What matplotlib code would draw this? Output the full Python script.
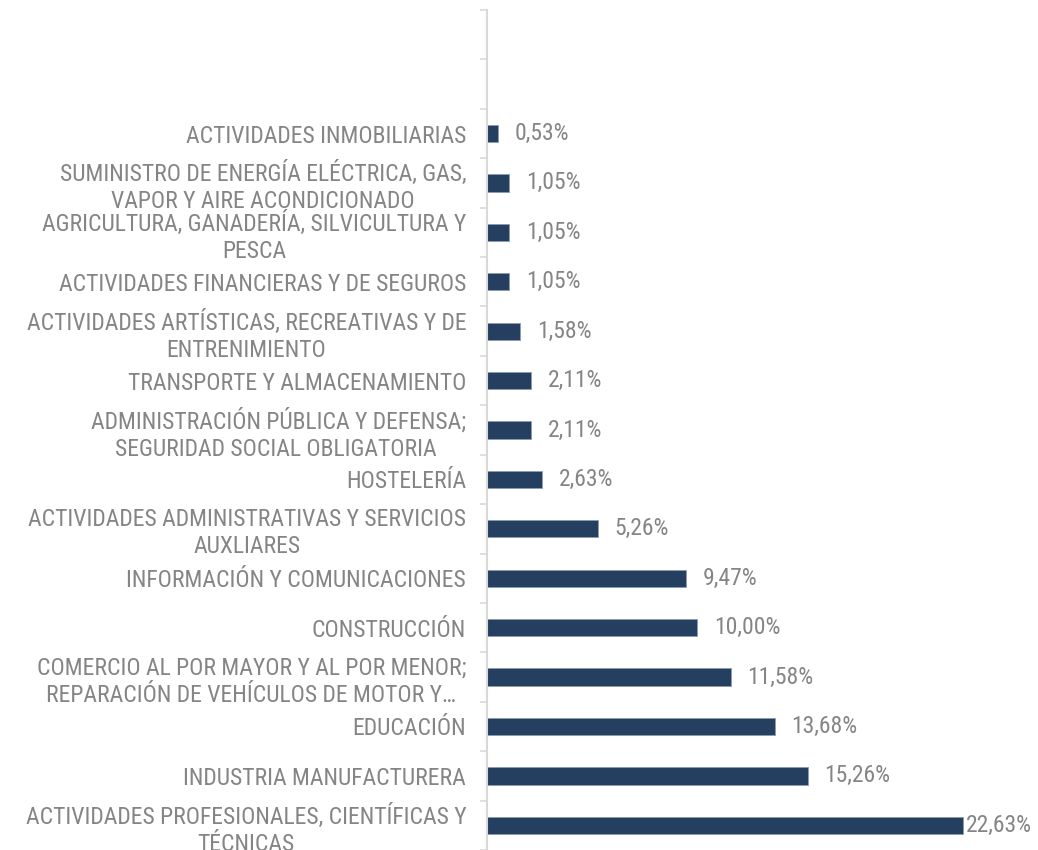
import matplotlib.pyplot as plt
from matplotlib import font_manager
import numpy as np

# bottom to top, as in the chart
sectores = [
    "ACTIVIDADES PROFESIONALES, CIENTÍFICAS Y\nTÉCNICAS",
    "INDUSTRIA MANUFACTURERA",
    "EDUCACIÓN",
    "COMERCIO AL POR MAYOR Y AL POR MENOR;\nREPARACIÓN DE VEHÍCULOS DE MOTOR Y…",
    "CONSTRUCCIÓN",
    "INFORMACIÓN Y COMUNICACIONES",
    "ACTIVIDADES ADMINISTRATIVAS Y SERVICIOS\nAUXLIARES",
    "HOSTELERÍA",
    "ADMINISTRACIÓN PÚBLICA Y DEFENSA;\nSEGURIDAD SOCIAL OBLIGATORIA ",
    "TRANSPORTE Y ALMACENAMIENTO",
    "ACTIVIDADES ARTÍSTICAS, RECREATIVAS Y DE\nENTRENIMIENTO",
    "ACTIVIDADES FINANCIERAS Y DE SEGUROS",
    "AGRICULTURA, GANADERÍA, SILVICULTURA Y\nPESCA",
    "SUMINISTRO DE ENERGÍA ELÉCTRICA, GAS,\nVAPOR Y AIRE ACONDICIONADO",
    "ACTIVIDADES INMOBILIARIAS",
]
porcentajes = [22.63, 15.26, 13.68, 11.58, 10.00, 9.47, 5.26, 2.63,
               2.11, 2.11, 1.58, 1.05, 1.05, 1.05, 0.53]
n_huecos = 2  # empty slots above the last category

# narrow font if there is one, else Liberation Sans
fuente, tam = 'Liberation Sans', 14.2
for fam, size in [('Roboto Condensed', 17), ('Arial Narrow', 16)]:
    try:
        font_manager.findfont(fam, fallback_to_default=False)
        fuente, tam = fam, size
        break
    except ValueError:
        pass
plt.rcParams['font.family'] = [fuente, 'DejaVu Sans']

fig = plt.figure(figsize=(10.38, 8.5), dpi=100)
ax = fig.add_axes([487 / 1038, 0, 1 - 487 / 1038, 840 / 850])

y = np.arange(len(sectores))
ax.barh(y, porcentajes, height=0.35, color='#243f60',
        edgecolor='#8c9bb0', linewidth=0.6)

for yi, v in zip(y, porcentajes):
    off = 2 if v > 20 else 12
    ax.annotate(f"{v:.2f}%".replace('.', ','), (v, yi),
                xytext=(off, 0), textcoords='offset points',
                ha='left', va='center', fontsize=tam, color='#858585')

total = len(sectores) + n_huecos
ax.set_ylim(-0.5, total - 0.5)
ax.set_xlim(0, 551 / 21.03)

ax.set_yticks(y)
ax.set_yticklabels(sectores, fontsize=tam, color='#858585',
                   multialignment='center', linespacing=1.22)
ax.tick_params(axis='y', which='major', length=0, pad=15)
ax.set_yticks(np.arange(total + 1) - 0.5, minor=True)
ax.tick_params(axis='y', which='minor', length=5, width=1.2,
               color='#d9d9d9', direction='out')

ax.set_xticks([])
for s in ['top', 'right', 'bottom']:
    ax.spines[s].set_visible(False)
ax.spines['left'].set_color('#d9d9d9')
ax.spines['left'].set_linewidth(1.5)

fig.savefig('out.png', dpi=100)
